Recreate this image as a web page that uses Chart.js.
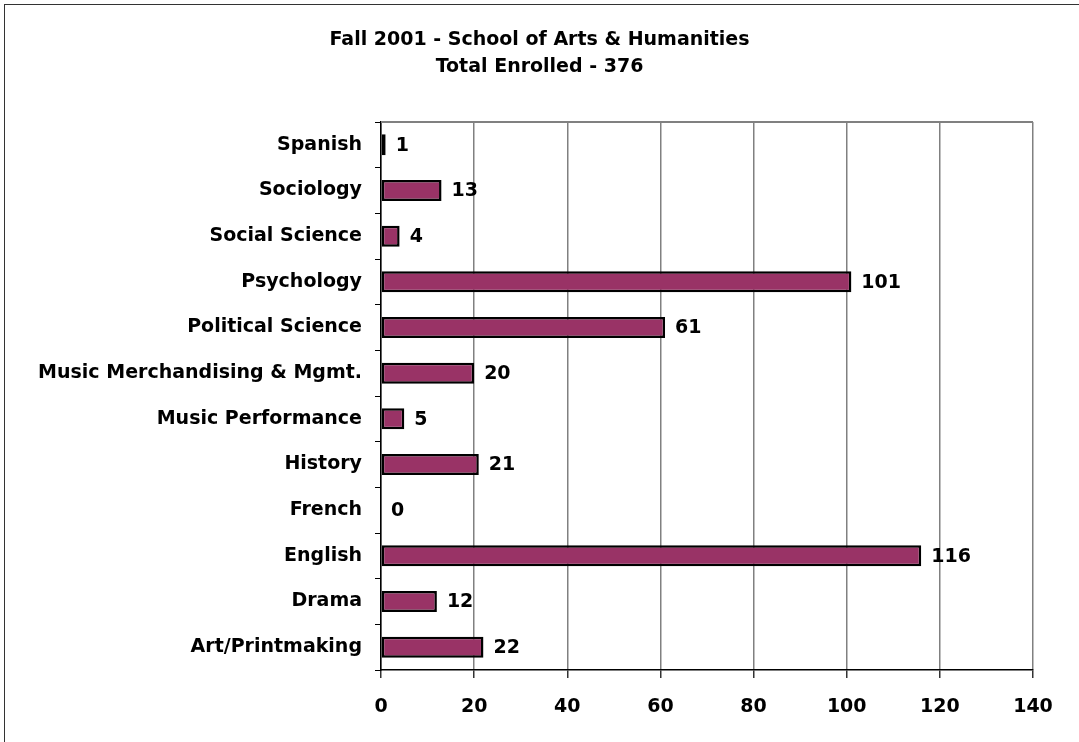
<!DOCTYPE html>
<html>
<head>
<meta charset="utf-8">
<script src="https://cdn.jsdelivr.net/npm/chart.js@4"></script>
<style>
    body { margin: 0; background: #fff; }
    #wrap { position: relative; width: 1079px; height: 742px; overflow: hidden; }
    #frame { position: absolute; left: 4px; top: 4px; width: 1200px; height: 900px; border: 1px solid #333; }
    #enrollChart { position: absolute; left: 0; top: 0; }
</style>
</head>
<body>
<div id="wrap">
    <div id="frame"></div>
    <canvas id="enrollChart" width="1079" height="742"></canvas>
</div>
<script>
var majors = ['Spanish', 'Sociology', 'Social Science', 'Psychology', 'Political Science',
    'Music Merchandising & Mgmt.', 'Music Performance', 'History', 'French', 'English',
    'Drama', 'Art/Printmaking'];
var enrolled = [1, 13, 4, 101, 61, 20, 5, 21, 0, 116, 12, 22];
var titleLines = ['Fall 2001 - School of Arts & Humanities', 'Total Enrolled - 376'];

var fontFamily = '"DejaVu Sans", Tahoma, sans-serif';
var fontSize = 19;

// value labels at the end of each bar
var barValues = {
    id: 'barValues',
    afterDatasetsDraw: function (chart) {
        var ctx = chart.ctx;
        var meta = chart.getDatasetMeta(0);
        ctx.save();
        ctx.font = 'bold ' + fontSize + 'px ' + fontFamily;
        ctx.fillStyle = '#000';
        ctx.textAlign = 'left';
        ctx.textBaseline = 'middle';
        meta.data.forEach(function (bar, i) {
            ctx.fillText(String(enrolled[i]), bar.x + 10, bar.y + 1);
        });
        ctx.restore();
    }
};

// title centred on the whole page, plus gray line along the top of the plot
var frameBits = {
    id: 'frameBits',
    afterDraw: function (chart) {
        var a = chart.chartArea;
        var ctx = chart.ctx;
        ctx.save();
        ctx.strokeStyle = '#808080';
        ctx.lineWidth = 2;
        ctx.beginPath();
        ctx.moveTo(a.left, a.top);
        ctx.lineTo(a.right, a.top);
        ctx.stroke();

        ctx.font = 'bold ' + fontSize + 'px ' + fontFamily;
        ctx.fillStyle = '#000';
        ctx.textAlign = 'center';
        ctx.textBaseline = 'middle';
        titleLines.forEach(function (line, i) {
            ctx.fillText(line, chart.width / 2, 40 + i * 27);
        });
        ctx.restore();
    }
};

var ctx = document.getElementById('enrollChart').getContext('2d');
var enrollChart = new Chart(ctx, {
    type: 'bar',
    data: {
        labels: majors,
        datasets: [{
            data: enrolled,
            backgroundColor: '#993366',
            borderColor: '#000',
            borderWidth: 2.5,
            borderSkipped: false,
            barPercentage: 0.46,
            categoryPercentage: 1
        }]
    },
    options: {
        indexAxis: 'y',
        responsive: false,
        animation: false,
        layout: { padding: { left: 10, right: 46, top: 122, bottom: 0 } },
        plugins: {
            legend: { display: false },
            tooltip: { enabled: false },
            title: { display: false }
        },
        scales: {
            x: {
                min: 0,
                max: 140,
                ticks: {
                    stepSize: 20,
                    color: '#000',
                    padding: 18,
                    font: { family: fontFamily, size: fontSize, weight: 'bold' }
                },
                grid: { color: '#808080', lineWidth: 1.5, tickLength: 8, tickColor: '#333' },
                border: { color: '#000', width: 1.5 },
                afterFit: function (scale) { scale.height = 72; }
            },
            y: {
                ticks: {
                    color: '#000',
                    padding: 13,
                    font: { family: fontFamily, size: fontSize, weight: 'bold' }
                },
                grid: { offset: true, drawOnChartArea: false, tickLength: 6, color: '#000' },
                border: { color: '#000', width: 1.5 },
                afterFit: function (scale) { scale.width = 371; }
            }
        }
    },
    plugins: [barValues, frameBits]
});
</script>
</body>
</html>
